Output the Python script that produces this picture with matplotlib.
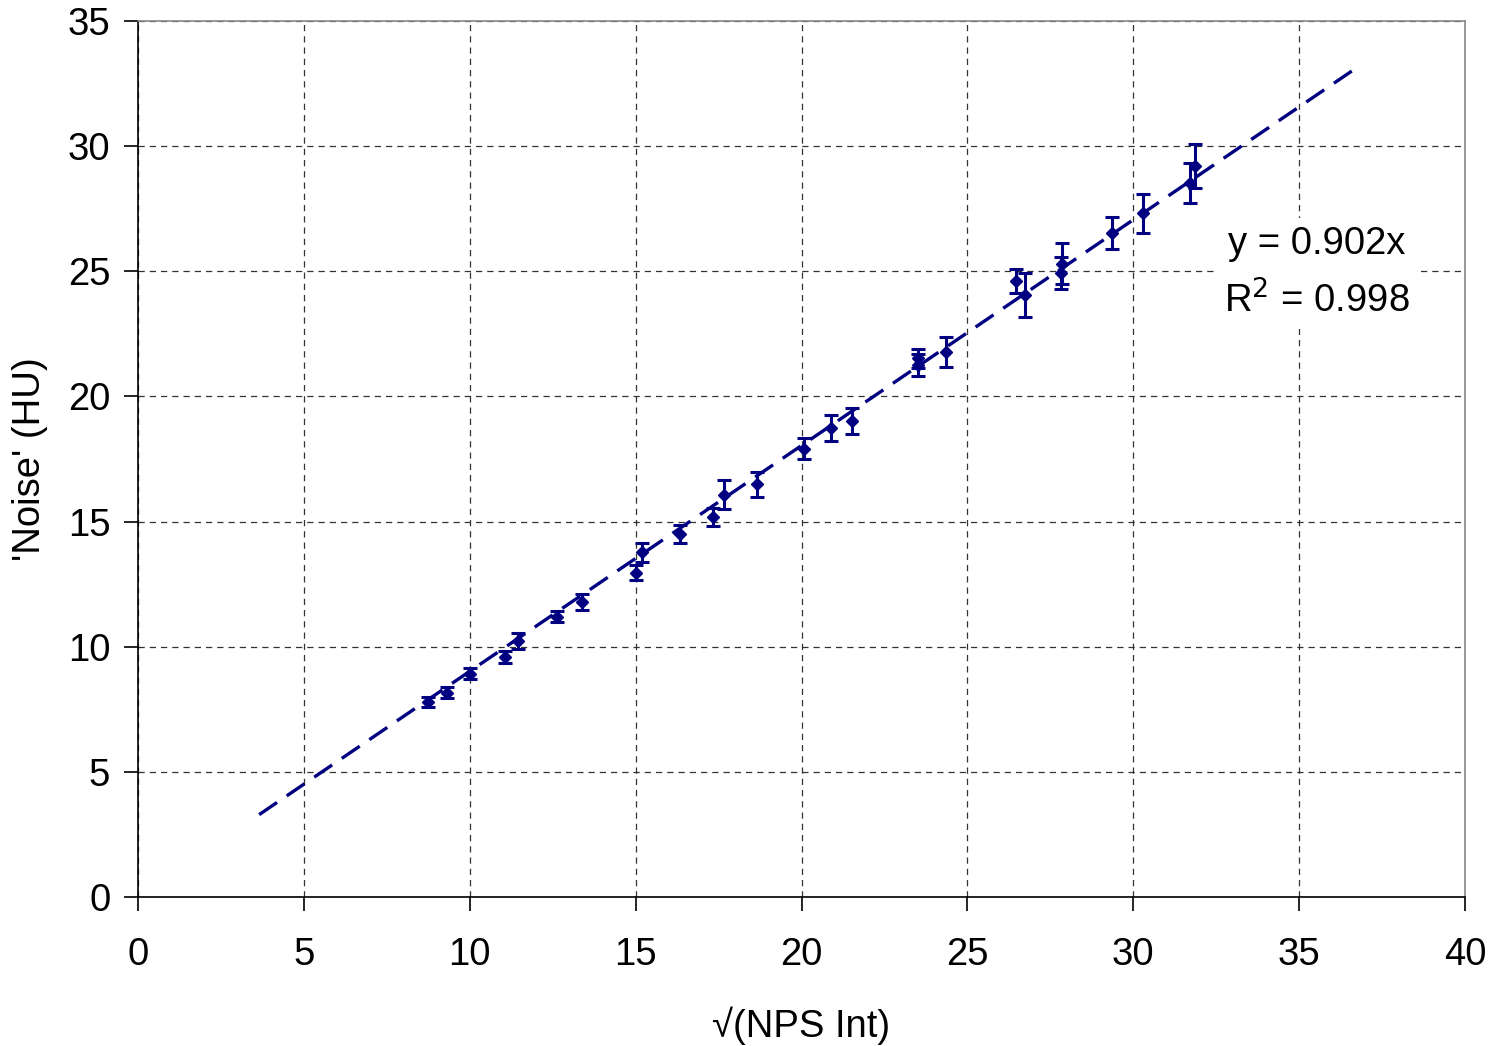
import matplotlib
matplotlib.use("Agg")
import matplotlib.pyplot as plt
import numpy as np

plt.rcParams['font.family'] = ['Liberation Sans', 'DejaVu Sans']

# ==== DATI ====
sqrt_nps = [8.75, 9.30, 10.00, 11.06, 11.46, 12.62, 13.37, 15.00, 15.18, 16.34,
            17.34, 17.66, 18.67, 20.07, 20.88, 21.51, 23.50, 23.52, 24.35, 26.47,
            26.74, 27.82, 27.84, 29.35, 30.30, 31.71, 31.86]
noise_hu = [7.80, 8.17, 8.93, 9.60, 10.23, 11.19, 11.80, 12.95, 13.77, 14.50,
            15.19, 16.08, 16.50, 17.92, 18.75, 19.03, 21.52, 21.25, 21.78, 24.62,
            24.05, 24.94, 25.31, 26.54, 27.31, 28.54, 29.20]
noise_err = [0.19, 0.23, 0.23, 0.24, 0.32, 0.22, 0.32, 0.30, 0.39, 0.35,
             0.37, 0.58, 0.50, 0.43, 0.52, 0.52, 0.39, 0.45, 0.61, 0.49,
             0.87, 0.63, 0.81, 0.63, 0.77, 0.80, 0.88]

slope = 0.902
r2 = 0.998
fit_x = [3.65, 36.6]

navy = "#000080"

# ==== FIGURA ====
fig = plt.figure(figsize=(14.89, 10.46), dpi=100)
ax = fig.add_axes([0.0927, 0.1424, 0.8912, 0.8375])

fit_y = [slope * v for v in fit_x]
ax.plot(fit_x, fit_y, color=navy, lw=2.4, ls=(0, (6.5, 3.5)), zorder=2)

ax.errorbar(sqrt_nps, noise_hu, yerr=noise_err, fmt="D", color=navy,
            markersize=6.5, elinewidth=2.2, capsize=4.8, capthick=2.2, zorder=3)

ax.set_xlim(0, 40)
ax.set_ylim(0, 35)
ax.set_xticks(range(0, 41, 5))
ax.set_yticks(range(0, 36, 5))
ax.tick_params(labelsize=27.5, length=10, width=1.2, direction="out", pad=19)
ax.tick_params(axis="y", pad=10)
ax.grid(True, color="#333333", ls=(0, (5, 4)), lw=0.9)
ax.set_axisbelow(True)

for s in ["left", "bottom"]:
    ax.spines[s].set_color("black")
    ax.spines[s].set_linewidth(1.2)
for s in ["top", "right"]:
    ax.spines[s].set_color("#888888")
    ax.spines[s].set_linewidth(1.2)

ax.set_xlabel("\u221a(NPS Int)", fontsize=27.5, labelpad=24)
ax.set_ylabel("'Noise' (HU)", fontsize=27.5, labelpad=14)

ax.text(0.888, 0.712, f"y = {slope:.3f}x\nR$^2$ = {r2:.3f}", transform=ax.transAxes,
        fontsize=27.5, ha="center", va="center", linespacing=1.62,
        bbox=dict(facecolor="white", edgecolor="none", pad=6), zorder=4)

plt.savefig("out.png", dpi=100)
